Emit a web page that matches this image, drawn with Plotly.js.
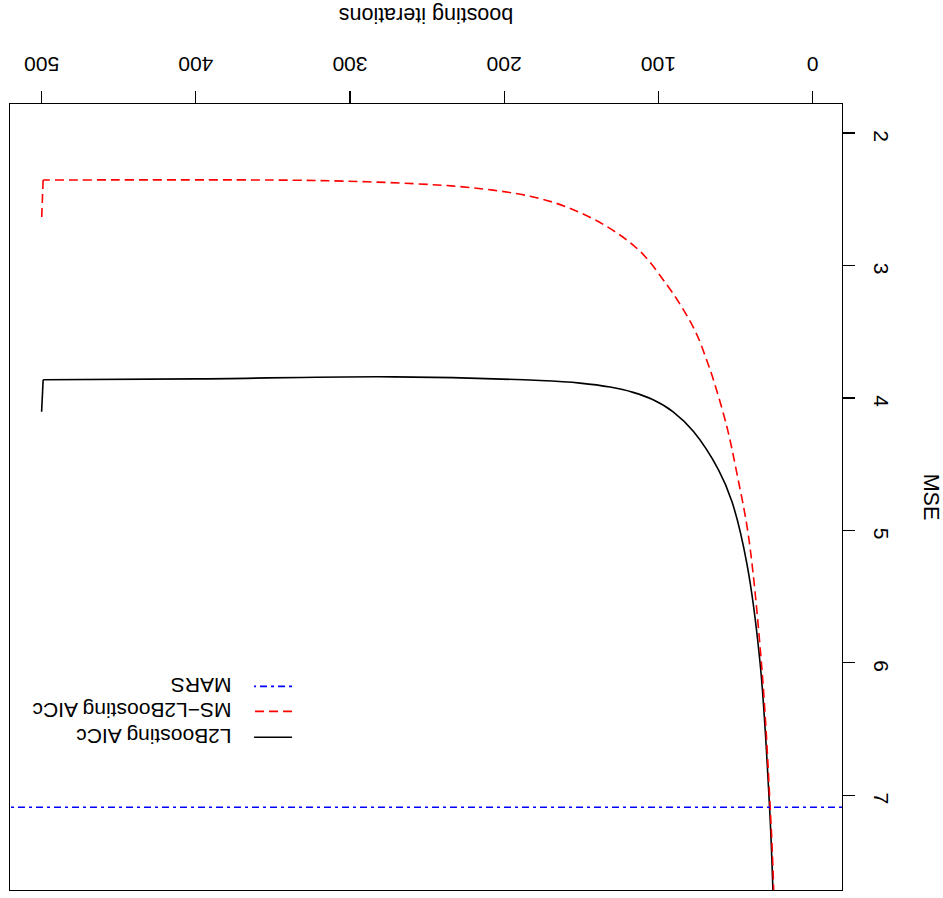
<!DOCTYPE html>
<html>
<head>
<meta charset="utf-8">
<script src="https://cdn.plot.ly/plotly-3.0.1.min.js"></script>
<style>
  html, body { margin: 0; padding: 0; background: #ffffff; }
  #chart { width: 943px; height: 898px; transform: rotate(180deg); transform-origin: 50% 50%; }
</style>
</head>
<body>
<div id="chart"></div>
<script>
// Boosting iterations vs MSE (figure is shown rotated by 180 degrees, as in the reference)
const l2Iter = [1, 25.7, 27.9, 34.0, 42.6, 52.3, 61.0, 77.2, 90.4, 103.4, 116.4, 131.3, 150.8, 176.7, 271.5, 399.4, 499, 500];
const l2Mse  = [20, 7.715, 7.086, 6.005, 5.251, 4.782, 4.543, 4.254, 4.105, 4.014, 3.958, 3.918, 3.888, 3.869, 3.841, 3.856, 3.863, 4.105];

const msIter = [1, 25.2, 27.5, 32.8, 41.5, 49.1, 55.6, 64.3, 68.5, 75.0, 83.7, 94.5, 111.8, 133.5, 159.4, 183.2, 220.9, 257.9, 304.6, 351.4, 499, 500];
const msMse  = [20, 7.715, 7.086, 6.054, 5.047, 4.568, 4.216, 3.863, 3.720, 3.523, 3.335, 3.146, 2.894, 2.705, 2.559, 2.477, 2.413, 2.383, 2.363, 2.355, 2.355, 2.655];

const marsMse = 7.09;
const xRange = [-19.1, 520.5];
const yRange = [1.781, 7.715];

const xTicks = [0, 100, 200, 300, 400, 500];
const yTicks = [2, 3, 4, 5, 6, 7];

const seriesNames = ['L2Boosting AICc', 'MS\u2212L2Boosting AICc', 'MARS'];

const blackLine = { color: '#000000', width: 1.6 };
const redLine = { color: '#FF0000', width: 1.6, dash: '9px,5px' };
const blueLine = { color: '#0000FF', width: 1.6, dash: '3px,4px,7px,4px' };
const gap = '\u00a0\u00a0\u00a0';

const nL2 = l2Iter.length, nMs = msIter.length;
const traces = [
  { x: l2Iter.slice(0, nL2 - 1), y: l2Mse.slice(0, nL2 - 1), mode: 'lines', name: gap + seriesNames[0],
    line: Object.assign({ shape: 'spline', smoothing: 1 }, blackLine), legend: 'legend' },
  { x: l2Iter.slice(nL2 - 2), y: l2Mse.slice(nL2 - 2), mode: 'lines', showlegend: false,
    line: blackLine, legend: 'legend' },
  { x: msIter.slice(0, nMs - 1), y: msMse.slice(0, nMs - 1), mode: 'lines', name: gap + seriesNames[1],
    line: Object.assign({ shape: 'spline', smoothing: 1 }, redLine), legend: 'legend2' },
  { x: msIter.slice(nMs - 2), y: msMse.slice(nMs - 2), mode: 'lines', showlegend: false,
    line: redLine, legend: 'legend2' },
  { x: xRange, y: [marsMse, marsMse], mode: 'lines', name: gap + seriesNames[2],
    line: blueLine, legend: 'legend3' }
];

const font = { family: 'Liberation Sans, Arial, Helvetica, sans-serif', size: 21, color: '#000000' };
const titleFont = { family: 'Liberation Sans, Arial, Helvetica, sans-serif', size: 21.5, color: '#000000' };

function legendAt(y) {
  return { x: 0.655, y: y, xanchor: 'left', yanchor: 'middle',
    bgcolor: 'rgba(0,0,0,0)', borderwidth: 0, font: font, itemwidth: 38 };
}

const layout = {
  width: 943, height: 898,
  margin: { l: 101, r: 9.5, t: 8, b: 104, pad: 0 },
  paper_bgcolor: '#ffffff', plot_bgcolor: '#ffffff',
  font: font,
  showlegend: true,
  xaxis: {
    range: xRange, tickvals: xTicks, ticktext: xTicks.map(String),
    ticks: 'outside', ticklen: 12, tickwidth: 1.2, tickcolor: '#000000',
    showline: true, mirror: true, linecolor: '#000000', linewidth: 1.2,
    showgrid: false, zeroline: false, automargin: false,
    ticklabelstandoff: 9,
    title: { text: 'boosting iterations', font: titleFont, standoff: 30 }
  },
  yaxis: {
    range: yRange, tickvals: yTicks, ticktext: yTicks.map(String), tickangle: -90,
    ticks: 'outside', ticklen: 12, tickwidth: 1.2, tickcolor: '#000000',
    showline: true, mirror: true, linecolor: '#000000', linewidth: 1.2,
    showgrid: false, zeroline: false, automargin: false,
    ticklabelstandoff: 10,
    title: { text: 'MSE', font: titleFont, standoff: 30 }
  },
  legend: legendAt(0.8053),
  legend2: legendAt(0.7723),
  legend3: legendAt(0.7405)
};

Plotly.newPlot('chart', traces, layout, { displayModeBar: false, staticPlot: true });
</script>
</body>
</html>
